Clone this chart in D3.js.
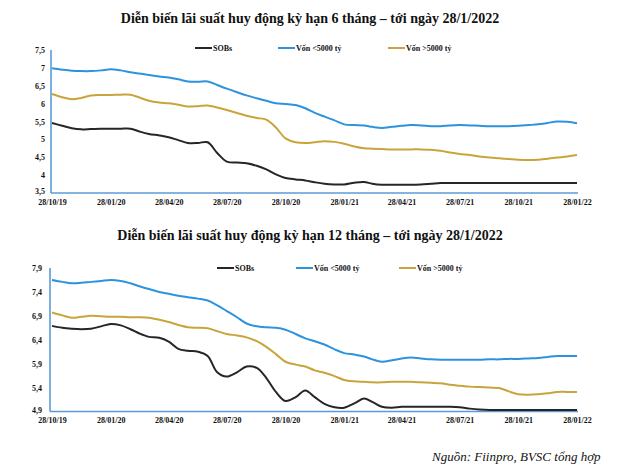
<!DOCTYPE html>
<html><head><meta charset="utf-8">
<script src="https://cdn.jsdelivr.net/npm/d3@7"></script>
<style>
html,body{margin:0;padding:0;background:#fff;}
svg{display:block;}
</style></head>
<body>
<svg id="chart" width="630" height="473"></svg>
<script>
// ---------- DATA ----------
const dates = ["2019-10-28","2019-11-13","2019-11-28","2019-12-13","2019-12-28","2020-01-13","2020-01-28","2020-02-13","2020-02-28","2020-03-13","2020-03-28","2020-04-13","2020-04-28","2020-05-13","2020-05-28","2020-06-13","2020-06-28","2020-07-13","2020-07-28","2020-08-13","2020-08-28","2020-09-13","2020-09-28","2020-10-13","2020-10-28","2020-11-13","2020-11-28","2020-12-13","2020-12-28","2021-01-13","2021-01-28","2021-02-13","2021-02-28","2021-03-13","2021-03-28","2021-04-13","2021-04-28","2021-05-13","2021-05-28","2021-06-13","2021-06-28","2021-07-13","2021-07-28","2021-08-13","2021-08-28","2021-09-13","2021-09-28","2021-10-13","2021-10-28","2021-11-13","2021-11-28","2021-12-13","2021-12-28","2022-01-13","2022-01-28"];

const seriesNames = ["SOBs", "Vốn <5000 tỷ", "Vốn >5000 tỷ"];

// 6-month term
const sobs6 = [5.46,5.38,5.31,5.28,5.29,5.30,5.30,5.30,5.30,5.22,5.15,5.11,5.06,4.98,4.90,4.90,4.92,4.62,4.38,4.35,4.33,4.26,4.16,4.02,3.92,3.88,3.85,3.80,3.76,3.74,3.74,3.79,3.81,3.76,3.73,3.73,3.73,3.73,3.74,3.76,3.78,3.78,3.78,3.78,3.78,3.78,3.78,3.78,3.78,3.78,3.78,3.78,3.78,3.78,3.78];
const small6 = [6.99,6.95,6.92,6.91,6.91,6.93,6.96,6.93,6.88,6.84,6.80,6.76,6.73,6.68,6.62,6.61,6.62,6.52,6.42,6.32,6.23,6.15,6.08,6.01,5.99,5.96,5.87,5.74,5.64,5.53,5.42,5.40,5.39,5.35,5.32,5.35,5.38,5.40,5.39,5.37,5.37,5.39,5.40,5.39,5.38,5.37,5.37,5.37,5.38,5.40,5.42,5.46,5.50,5.49,5.45];
const large6 = [6.27,6.18,6.12,6.16,6.23,6.24,6.24,6.25,6.25,6.17,6.08,6.03,6.01,5.97,5.92,5.93,5.95,5.89,5.82,5.74,5.66,5.60,5.55,5.33,5.03,4.92,4.90,4.92,4.95,4.93,4.88,4.80,4.75,4.74,4.73,4.72,4.72,4.72,4.72,4.71,4.68,4.63,4.59,4.56,4.52,4.49,4.47,4.45,4.43,4.42,4.43,4.46,4.49,4.52,4.56];

// 12-month term
const sobs12 = [6.69,6.65,6.63,6.62,6.63,6.68,6.73,6.70,6.62,6.53,6.46,6.44,6.36,6.21,6.17,6.15,6.06,5.72,5.63,5.72,5.84,5.81,5.60,5.31,5.12,5.20,5.34,5.20,5.06,4.99,4.98,5.07,5.17,5.10,5.00,4.98,5.00,5.00,5.00,5.00,5.00,5.00,4.99,4.96,4.94,4.93,4.93,4.93,4.93,4.93,4.93,4.93,4.93,4.93,4.93];
const small12 = [7.65,7.61,7.58,7.59,7.61,7.63,7.65,7.63,7.58,7.52,7.46,7.40,7.36,7.32,7.29,7.26,7.22,7.12,7.00,6.87,6.74,6.68,6.66,6.65,6.61,6.52,6.43,6.37,6.30,6.20,6.12,6.09,6.05,5.99,5.94,5.97,6.01,6.03,6.01,5.99,5.98,5.98,5.98,5.98,5.98,5.99,5.99,6.00,6.00,6.01,6.02,6.04,6.06,6.06,6.06];
const large12 = [6.97,6.91,6.86,6.88,6.90,6.89,6.88,6.88,6.87,6.87,6.86,6.82,6.77,6.71,6.66,6.65,6.64,6.58,6.52,6.49,6.45,6.37,6.25,6.10,5.94,5.88,5.84,5.76,5.71,5.64,5.56,5.53,5.52,5.51,5.51,5.52,5.52,5.52,5.51,5.50,5.49,5.46,5.44,5.42,5.41,5.40,5.39,5.32,5.26,5.25,5.26,5.28,5.31,5.31,5.31];

const tickDates = ["2019-10-28","2020-01-28","2020-04-28","2020-07-28","2020-10-28","2021-01-28","2021-04-28","2021-07-28","2021-10-28","2022-01-28"];
const tickLabels = ["28/10/19","28/01/20","28/04/20","28/07/20","28/10/20","28/01/21","28/04/21","28/07/21","28/10/21","28/01/22"];

const yTicks6 = [3.5,4,4.5,5,5.5,6,6.5,7,7.5];
const yTicks12 = [4.9,5.4,5.9,6.4,6.9,7.4,7.9];

const title6 = "Diễn biến lãi suất huy động kỳ hạn 6 tháng – tới ngày 28/1/2022";
const title12 = "Diễn biến lãi suất huy động kỳ hạn 12 tháng – tới ngày 28/1/2022";
const sourceText = "Nguồn: Fiinpro, BVSC tổng hợp";

// ---------- DRAW ----------
const colors = ["#262626", "#2E93DD", "#C9A43A"];
const axisColor = "#5B9BD5";
const serif = "'Liberation Serif','Times New Roman',serif";
const parse = d3.timeParse("%Y-%m-%d");
const dts = dates.map(parse);
const svg = d3.select("#chart");

function fmtComma(v){ return String(v).replace(".", ","); }

function drawPanel(cfg){
  const g = svg.append("g");
  const x = d3.scaleTime().domain([parse("2019-10-28"), parse("2022-01-28")]).range([cfg.x0, cfg.x1]);
  const y = d3.scaleLinear().domain([cfg.yTicks[0], cfg.yTicks[cfg.yTicks.length-1]]).range([cfg.yBottom, cfg.yTop]);

  // title
  g.append("text").attr("x", 310).attr("y", cfg.titleY)
    .attr("text-anchor","middle").attr("font-family", serif).attr("font-weight","bold")
    .attr("font-size", 14).attr("fill","#111").text(cfg.title);

  // y axis labels
  const yAxis = d3.axisLeft(y).tickValues(cfg.yTicks).tickSize(0).tickPadding(cfg.yPad).tickFormat(fmtComma);
  const ya = g.append("g").attr("transform", `translate(${cfg.axisX},0)`).call(yAxis);
  ya.select(".domain").remove();
  ya.selectAll("text").attr("font-family", serif).attr("font-weight","bold").attr("font-size",8).attr("fill","#111");
  // lowest label sits a touch higher so it clears the date labels
  ya.selectAll(".tick").filter(d => d === cfg.yTicks[0]).select("text").attr("dy", "0.1em");

  // x axis labels
  const xAxis = d3.axisBottom(x).tickValues(tickDates.map(parse)).tickSize(0).tickPadding(6)
    .tickFormat((d,i)=>tickLabels[i]);
  const xa = g.append("g").attr("transform", `translate(0,${cfg.yBottom})`).call(xAxis);
  xa.select(".domain").remove();
  xa.selectAll("text").attr("font-family", serif).attr("font-weight","bold").attr("font-size",8).attr("fill","#111");

  // axis lines
  g.append("line").attr("x1", cfg.axisX).attr("x2", cfg.axisX).attr("y1", cfg.yTop).attr("y2", cfg.yBottom)
    .attr("stroke", axisColor).attr("stroke-width", 1.6);
  g.append("line").attr("x1", cfg.axisX).attr("x2", cfg.x1 + 1).attr("y1", cfg.yBottom).attr("y2", cfg.yBottom)
    .attr("stroke", axisColor).attr("stroke-width", 1.6);

  // lines
  const line = d3.line().x((d,i)=>x(dts[i])).y(d=>y(d)).curve(d3.curveCatmullRom.alpha(0.5));
  cfg.series.forEach((s, k) => {
    g.append("path").datum(s).attr("d", line).attr("fill","none")
      .attr("stroke", colors[k]).attr("stroke-width", 2).attr("stroke-linejoin","round");
  });

  // legend
  const lg = g.append("g");
  seriesNames.forEach((n, k) => {
    const lx = cfg.legendX[k];
    lg.append("line").attr("x1", lx).attr("x2", lx + 17).attr("y1", cfg.legendY).attr("y2", cfg.legendY)
      .attr("stroke", colors[k]).attr("stroke-width", 2);
    lg.append("text").attr("x", lx + 18).attr("y", cfg.legendY).attr("dy","0.33em")
      .attr("font-family", serif).attr("font-weight","bold").attr("font-size",8).attr("fill","#111").text(n);
  });
}

drawPanel({
  title: title6, titleY: 23,
  x0: 52, x1: 577, yTop: 50, yBottom: 193, axisX: 51, yPad: 6,
  yTicks: yTicks6, series: [sobs6, small6, large6],
  legendX: [195, 278, 388], legendY: 48
});

drawPanel({
  title: title12, titleY: 240,
  x0: 52, x1: 577, yTop: 268, yBottom: 411.5, axisX: 50, yPad: 8,
  yTicks: yTicks12, series: [sobs12, small12, large12],
  legendX: [217, 296, 399], legendY: 268
});

svg.append("text").attr("x", 432).attr("y", 461)
  .attr("font-family", serif).attr("font-style","italic").attr("font-size", 13).attr("fill","#111")
  .text(sourceText);
</script>
</body></html>
